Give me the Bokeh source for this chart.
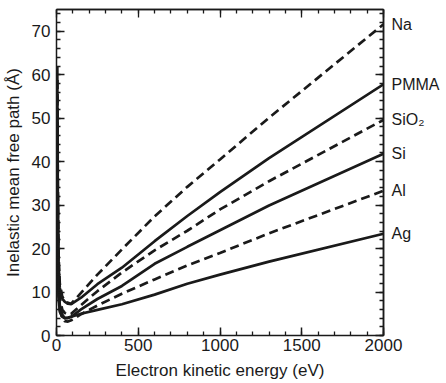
from bokeh.plotting import figure
from bokeh.models import LinearAxis, FixedTicker, Range1d
from bokeh.embed import file_html
from bokeh.resources import INLINE

# Electron kinetic energy (eV)
energy = [5, 8, 12, 20, 35, 50, 70, 90, 150, 250, 400, 600, 800, 1000, 1300, 2000]

# Inelastic mean free path (Å)
na = [62, 36, 19, 12, 9.0, 8.0, 7.5, 7.3, 9.8, 14.0, 19.8, 27.4, 34.2, 40.5, 50.1, 71.6]
pmma = [60, 33, 17, 11, 8.5, 7.8, 7.3, 7.2, 8.7, 11.8, 15.6, 21.7, 27.5, 33.0, 40.8, 57.8]
sio2 = [55, 28, 14, 8.5, 6.0, 5.2, 4.8, 5.0, 7.0, 10.2, 14.5, 19.6, 24.1, 29.0, 35.5, 49.6]
si = [50, 25, 12, 7.0, 4.8, 4.0, 4.0, 4.3, 6.0, 8.4, 11.4, 16.5, 20.4, 24.2, 29.9, 41.8]
al = [45, 22, 10, 6.0, 4.0, 3.3, 3.2, 3.5, 4.9, 6.9, 9.6, 12.9, 16.1, 19.0, 23.5, 33.3]
ag = [40, 20, 9, 5.5, 4.3, 4.0, 4.1, 4.3, 5.0, 5.9, 7.2, 9.4, 11.9, 14.0, 17.0, 23.4]

names = ["Na", "PMMA", "SiO\u2082", "Si", "Al", "Ag"]
values = [na, pmma, sio2, si, al, ag]
styles = ["dashed", "solid", "dashed", "solid", "dashed", "solid"]

# axis tick positions
x_major = [0, 500, 1000, 1500, 2000]
x_minor = list(range(0, 2001, 100))
y_major = [0, 10, 20, 30, 40, 50, 60, 70]
y_minor = list(range(0, 75, 2))

FONT = "Liberation Sans"
INK = "#1a1a1a"

p = figure(frame_width=327, frame_height=326, output_backend="svg", toolbar_location=None,
           x_range=Range1d(0, 2000), y_range=Range1d(0, 75),
           min_border_left=53, min_border_right=56, min_border_top=9, min_border_bottom=10)
p.xgrid.visible = False
p.ygrid.visible = False
p.outline_line_color = None
p.background_fill_color = "white"
p.border_fill_color = "white"

for vals, style in zip(values, styles):
    if style == "dashed":
        p.line(energy, vals, line_color=INK, line_width=2.7, line_dash="9 5")
    else:
        p.line(energy, vals, line_color=INK, line_width=2.7)


def ticks_only(minor_len, minor):
    ax = LinearAxis(ticker=FixedTicker(ticks=[], minor_ticks=minor))
    ax.axis_line_color = INK
    ax.axis_line_width = 1.5
    ax.minor_tick_line_color = INK
    ax.minor_tick_line_width = 1.3
    ax.major_tick_in = 0
    ax.major_tick_out = 0
    ax.minor_tick_in = minor_len
    ax.minor_tick_out = 0
    return ax


# main (labelled) axes
for ax in (p.xaxis[0], p.yaxis[0]):
    ax.axis_line_color = INK
    ax.axis_line_width = 1.5
    ax.major_tick_line_color = INK
    ax.major_tick_line_width = 1.5
    ax.minor_tick_line_color = INK
    ax.minor_tick_line_width = 1.3
    ax.major_tick_in = 8
    ax.major_tick_out = 0
    ax.minor_tick_in = 4
    ax.minor_tick_out = 0
    ax.major_label_text_font = FONT
    ax.major_label_text_font_size = "17px"
    ax.major_label_text_color = INK
    ax.axis_label_text_font = FONT
    ax.axis_label_text_font_size = "17px"
    ax.axis_label_text_font_style = "normal"
    ax.axis_label_text_color = INK

p.xaxis.ticker = FixedTicker(ticks=x_major, minor_ticks=x_minor)
p.yaxis.ticker = FixedTicker(ticks=y_major, minor_ticks=y_minor)
p.xaxis.axis_label = "Electron kinetic energy (eV)"
p.yaxis.axis_label = "Inelastic mean free path (Å)"
p.xaxis.major_label_standoff = 3
p.yaxis.major_label_standoff = 6
p.xaxis.axis_label_standoff = 7
p.yaxis.axis_label_standoff = 6

# top ticks (no labels)
p.add_layout(ticks_only(4, x_minor), "above")
p.add_layout(ticks_only(8, x_major), "above")

# right ticks (no numbers) and material names at line ends
p.add_layout(ticks_only(4, y_minor), "right")
p.add_layout(ticks_only(8, y_major), "right")

ends = [v[-1] for v in values]
lab = LinearAxis(ticker=FixedTicker(ticks=ends, minor_ticks=[]))
lab.axis_line_color = None
lab.major_tick_line_color = None
lab.major_tick_in = 0
lab.major_tick_out = 0
lab.major_label_standoff = 8
lab.major_label_text_font = FONT
lab.major_label_text_font_size = "16px"
lab.major_label_text_color = INK
lab.major_label_overrides = {e: n for e, n in zip(ends, names)}
p.add_layout(lab, "right")

open("out.html", "w").write(file_html(p, INLINE))
